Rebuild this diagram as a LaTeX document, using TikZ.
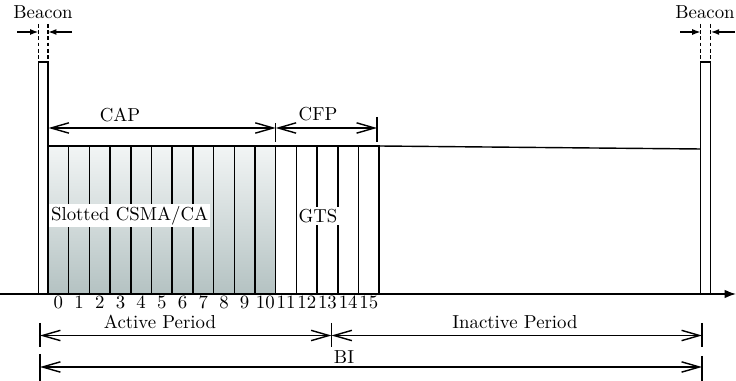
\documentclass[tikz,border=0pt]{standalone}
\usetikzlibrary{arrows.meta}
\definecolor{slottop}{RGB}{242,245,245}
\definecolor{slotbot}{RGB}{180,194,194}
\begin{document}
\begin{tikzpicture}[x=0.532pt,y=-0.532pt,line width=0.75pt,
  dim/.style={{Straight Barb[length=9.5pt,width=5.5pt]}-{Straight Barb[length=9.5pt,width=5.5pt]}},
  pointer/.style={-{Latex[length=4.5pt,width=3.2pt]}},
  lbl/.style={inner sep=1pt},
  slotbox/.style={draw}]
\useasboundingbox (0,0) rectangle (736,381);
% shaded CAP slots
\fill[top color=slottop,bottom color=slotbot] (48,146) rectangle (275.7,294);
% slots
\foreach \i in {0,...,15}{
  \pgfmathsetmacro\xa{48+\i*20.7}
  \draw (\xa,146) rectangle ++(20.7,148);
  \node[lbl] (n\i) at (\xa+10.35,302) {\i};
}
% beacons
\draw (38.5,62) rectangle (48,294);
\draw (700.7,62) rectangle (710.7,294);
\coordinate (capEnd) at (379.2,146);
\coordinate (rbTop) at (700.7,149);
\draw (capEnd) -- (rbTop);
% axis
\coordinate (ax0) at (0,294);
\coordinate (ax1) at (736,294);
\draw[-{Latex[length=6pt,width=4.5pt]}] (ax0) -- (ax1);
% beacon markers
\node[lbl] (b1) at (43,12) {Beacon};
\node[lbl] (b2) at (705,12) {Beacon};
\draw[dashed,dash pattern=on 2pt off 1.3pt] (38.5,24) -- (38.5,62) (48,24) -- (48,62);
\draw[dashed,dash pattern=on 2pt off 1.3pt] (700.7,24) -- (700.7,62) (710.7,24) -- (710.7,62);
\coordinate (la) at (17,32); \coordinate (lat) at (38.5,32);
\coordinate (lb) at (72,32); \coordinate (lbt) at (48,32);
\coordinate (ra) at (680,32); \coordinate (rat) at (700.7,32);
\coordinate (rb) at (735,32); \coordinate (rbt) at (710.7,32);
\draw[pointer] (la) -- (lat);
\draw[pointer] (lb) -- (lbt);
\draw[pointer] (ra) -- (rat);
\draw[pointer] (rb) -- (rbt);
% CAP / CFP
\coordinate (c0) at (48.5,128); \coordinate (c1) at (275.7,128); \coordinate (c2) at (377,128);
\draw (48.5,123) -- (48.5,142);
\draw (275.7,123) -- (275.7,142);
\draw (377,117) -- (377,142);
\draw[dim] (c0) -- (c1);
\draw[dim] (c1) -- (c2);
\node[lbl] (cap) at (120,115) {CAP};
\node[lbl] (cfp) at (318,114) {CFP};
% labels inside
\node[lbl,fill=white,anchor=west] (csma) at (48.5,215.5) {Slotted CSMA/CA};
\node[lbl,fill=white] (gts) at (318,216) {GTS};
% periods
\coordinate (p0) at (40,335.5); \coordinate (p1) at (331.5,335.5); \coordinate (p2) at (702,335.5);
\draw (40,323) -- (40,347);
\draw (331.5,323) -- (331.5,347);
\draw (702,323) -- (702,347);
\draw[dim] (p0) -- (p1);
\draw[dim] (p1) -- (p2);
\node[lbl] (act) at (160,322) {Active Period};
\node[lbl] (inact) at (515,322) {Inactive Period};
\coordinate (q0) at (40,367); \coordinate (q1) at (702,367);
\draw (40,354) -- (40,381);
\draw (702,356) -- (702,381);
\draw[dim] (q0) -- (q1);
\node[lbl] (bi) at (344,357) {BI};
\end{tikzpicture}
\end{document}
